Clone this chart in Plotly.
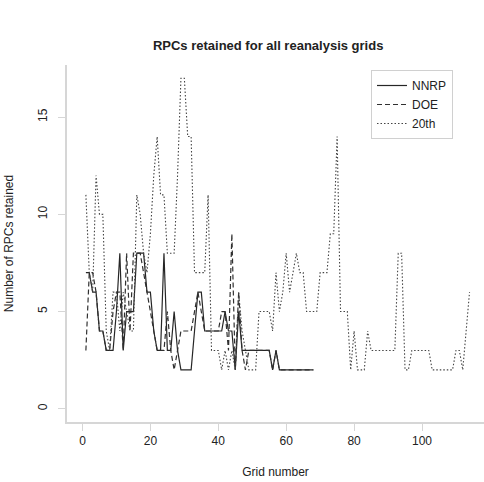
import plotly.graph_objects as go

# Grid numbers
grid_nnrp = list(range(1, 69))
grid_doe = list(range(1, 69))
grid_20th = list(range(1, 115))

# Number of RPCs retained
nnrp = [7, 7, 6, 6, 4, 4, 3, 3, 3, 5, 8, 3, 5, 5, 5, 8, 8, 8, 6, 6,
        4, 3, 3, 8, 3, 3, 5, 3, 2, 2, 2, 2, 4, 6, 6, 4, 4, 4, 4, 4,
        4, 5, 4, 4, 2, 5, 3, 3, 3, 3, 3, 3, 3, 3, 3, 2, 3, 2, 2, 2,
        2, 2, 2, 2, 2, 2, 2, 2]

doe = [3, 7, 7, 6, 4, 4, 3, 3, 5, 6, 6, 3, 8, 4, 8, 8, 8, 7, 6, 5,
       4, 3, 3, 3, 5, 3, 2, 3, 4, 4, 4, 4, 5, 6, 5, 4, 4, 4, 4, 4,
       5, 5, 3, 9, 2, 6, 3, 2, 3, 3, 3, 3, 3, 3, 3, 2, 3, 2, 2, 2,
       2, 2, 2, 2, 2, 2, 2, 2]

c20th = [11, 7, 6, 12, 10, 10, 4, 3, 6, 6, 4, 6, 5, 4, 4, 11, 10, 8, 7, 9,
         12, 14, 11, 11, 8, 8, 8, 12, 17, 17, 14, 14, 7, 7, 7, 7, 11, 3, 3, 3,
         2, 3, 2, 3, 2, 6, 4, 3, 2, 2, 2, 5, 5, 5, 5, 4, 7, 5, 6, 8,
         6, 7, 8, 7, 7, 5, 5, 5, 5, 7, 7, 7, 9, 9, 14, 5, 5, 5, 2, 4,
         2, 2, 2, 4, 3, 3, 3, 3, 3, 3, 3, 3, 8, 8, 2, 2, 3, 3, 3, 3,
         3, 3, 2, 2, 2, 2, 2, 2, 2, 3, 3, 2, 4, 6]

x_ticks = [0, 20, 40, 60, 80, 100]
y_ticks = [0, 5, 10, 15]

FONT = "Liberation Sans, Arial, Helvetica, sans-serif"
AXIS_GRAY = "#d6d6d6"

fig = go.Figure()
fig.add_trace(go.Scatter(x=grid_nnrp, y=nnrp, mode="lines", name="NNRP",
                         line=dict(color="#262626", width=1.2, dash="solid")))
fig.add_trace(go.Scatter(x=grid_doe, y=doe, mode="lines", name="DOE",
                         line=dict(color="#303030", width=1.2, dash="5px,3px")))
fig.add_trace(go.Scatter(x=grid_20th, y=c20th, mode="lines", name="20th",
                         line=dict(color="#444444", width=1.1, dash="1.5px,2px")))

fig.update_layout(
    width=484, height=482,
    margin=dict(l=67, r=0, t=65, b=60),
    paper_bgcolor="white", plot_bgcolor="white",
    font=dict(family=FONT, size=12, color="#222"),
    title=dict(text="<b>RPCs retained for all reanalysis grids</b>",
               x=0.554, xref="container", xanchor="center",
               y=1 - 45 / 482, yref="container", yanchor="middle",
               font=dict(size=13, color="#222", family=FONT)),
    showlegend=True,
    legend=dict(x=(371 - 67) / 417, y=(422 - 70) / 357, xanchor="left", yanchor="top",
                bordercolor="#d0d0d0", borderwidth=1, bgcolor="white",
                font=dict(size=12, family=FONT), tracegroupgap=0, itemwidth=30),
)
fig.update_xaxes(range=[-4.56, 118.26], tickvals=x_ticks, ticks="outside", ticklen=7,
                 tickcolor=AXIS_GRAY, showline=True, linecolor=AXIS_GRAY, linewidth=1.5,
                 showgrid=False, zeroline=False, ticklabelstandoff=0,
                 title=dict(text="Grid number", standoff=20, font=dict(size=12)))
fig.update_yaxes(range=[-0.68, 17.68], tickvals=y_ticks, ticks="outside", ticklen=7,
                 tickcolor=AXIS_GRAY, showline=True, linecolor=AXIS_GRAY, linewidth=1.5,
                 showgrid=False, zeroline=False, tickangle=-90, ticklabelstandoff=6,
                 title=dict(text="Number of RPCs retained", standoff=20, font=dict(size=12)))

fig.write_html("out.html")
